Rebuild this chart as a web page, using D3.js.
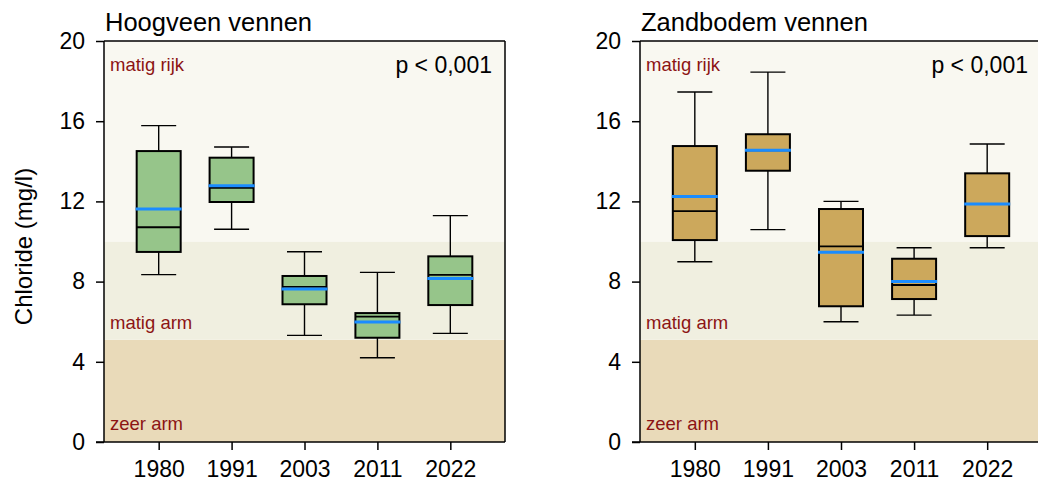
<!DOCTYPE html>
<html>
<head>
<meta charset="utf-8">
<script src="https://cdn.jsdelivr.net/npm/d3@7"></script>
<style>
  html, body { margin: 0; padding: 0; background: #ffffff; }
  svg { display: block; }
  text { font-family: "Liberation Sans", Arial, sans-serif; }
</style>
</head>
<body>
<svg id="chart" width="1038" height="485"></svg>
<script>
// ---- data ----
const years = ["1980", "1991", "2003", "2011", "2022"];
const yTicks = [0, 4, 8, 12, 16, 20];

// Hoogveen vennen
const hvLow    = [8.35, 10.61, 5.32, 4.20, 5.42];
const hvQ1     = [9.48, 11.97, 6.87, 5.20, 6.83];
const hvMedian = [10.71, 12.68, 7.74, 6.25, 8.34];
const hvQ3     = [14.51, 14.18, 8.28, 6.43, 9.26];
const hvHigh   = [15.78, 14.71, 9.49, 8.46, 11.29];
const hvMean   = [11.62, 12.78, 7.63, 5.99, 8.16];

// Zandbodem vennen
const zbLow    = [8.99, 10.59, 6.00, 6.33, 9.69];
const zbQ1     = [10.07, 13.53, 6.77, 7.13, 10.27];
const zbMedian = [11.51, 14.55, 9.76, 7.83, 11.87];
const zbQ3     = [14.76, 15.35, 11.62, 9.14, 13.40];
const zbHigh   = [17.46, 18.45, 12.00, 9.69, 14.86];
const zbMean   = [12.25, 14.55, 9.46, 8.00, 11.87];

// background classes (mg/l)
const bandLower = [0, 5.1, 10];
const bandUpper = [5.1, 10, 20];
const bandNames = ["zeer arm", "matig arm", "matig rijk"];

const yLabel = "Chloride (mg/l)";
const pText = "p < 0,001";

// ---- layout ----
const svg = d3.select("#chart");
const plotTop = 41, plotBottom = 442;
const y = d3.scaleLinear().domain([0, 20]).range([plotBottom, plotTop]);
const bandColors = ["#e9dab9", "#f0efe0", "#f9f8f1"];
const labelRed = "#8c1414";

function rows(lo, q1, med, q3, hi, mean) {
  return years.map((yr, i) => ({ yr, lo: lo[i], q1: q1[i], med: med[i], q3: q3[i], hi: hi[i], mean: mean[i] }));
}

function panel(left, right, title, data, fill) {
  const g = svg.append("g");
  const x = d3.scalePoint().domain(years).range([left, right]).padding(0.75);

  // background bands
  g.selectAll("rect.band").data(bandNames).join("rect")
    .attr("x", left).attr("width", right - left)
    .attr("y", (d, i) => y(bandUpper[i]))
    .attr("height", (d, i) => y(bandLower[i]) - y(bandUpper[i]))
    .attr("fill", (d, i) => bandColors[i]);

  // band labels
  const lbl = g.append("g").attr("fill", labelRed).attr("font-size", 18.5);
  lbl.append("text").attr("x", left + 6).attr("y", y(bandUpper[2]) + 30).text(bandNames[2]);
  lbl.append("text").attr("x", left + 6).attr("y", y(bandLower[1]) - 11).text(bandNames[1]);
  lbl.append("text").attr("x", left + 6).attr("y", y(bandLower[0]) - 12).text(bandNames[0]);

  // p-value
  g.append("text").attr("x", left + 388).attr("y", plotTop + 32)
    .attr("text-anchor", "end").attr("font-size", 23).attr("fill", "#000").text(pText);

  // title
  g.append("text").attr("x", left + 1).attr("y", 31)
    .attr("font-size", 25.5).attr("fill", "#000").text(title);

  // boxes
  const boxW = 44, capW = 35;
  const bx = g.selectAll("g.box").data(data).join("g").attr("class", "box")
    .attr("transform", d => `translate(${x(d.yr)},0)`);
  bx.append("line").attr("x1", 0).attr("x2", 0).attr("y1", d => y(d.hi)).attr("y2", d => y(d.q3))
    .attr("stroke", "#000").attr("stroke-width", 1.4);
  bx.append("line").attr("x1", 0).attr("x2", 0).attr("y1", d => y(d.q1)).attr("y2", d => y(d.lo))
    .attr("stroke", "#000").attr("stroke-width", 1.4);
  bx.append("line").attr("x1", -capW / 2).attr("x2", capW / 2).attr("y1", d => y(d.hi)).attr("y2", d => y(d.hi))
    .attr("stroke", "#000").attr("stroke-width", 1.4);
  bx.append("line").attr("x1", -capW / 2).attr("x2", capW / 2).attr("y1", d => y(d.lo)).attr("y2", d => y(d.lo))
    .attr("stroke", "#000").attr("stroke-width", 1.4);
  bx.append("rect").attr("x", -boxW / 2).attr("width", boxW)
    .attr("y", d => y(d.q3)).attr("height", d => y(d.q1) - y(d.q3))
    .attr("fill", fill).attr("stroke", "#000").attr("stroke-width", 2);
  bx.append("line").attr("x1", -boxW / 2).attr("x2", boxW / 2).attr("y1", d => y(d.med)).attr("y2", d => y(d.med))
    .attr("stroke", "#000").attr("stroke-width", 1.8);
  bx.append("line").attr("x1", -boxW / 2 - 1).attr("x2", boxW / 2 + 1).attr("y1", d => y(d.mean)).attr("y2", d => y(d.mean))
    .attr("stroke", "#1a8cff").attr("stroke-width", 3);

  // frame (top & right)
  g.append("line").attr("x1", left).attr("x2", right).attr("y1", plotTop).attr("y2", plotTop)
    .attr("stroke", "#000").attr("stroke-width", 1.5);
  g.append("line").attr("x1", right).attr("x2", right).attr("y1", plotTop).attr("y2", plotBottom)
    .attr("stroke", "#000").attr("stroke-width", 1.5);

  // axes
  const ya = g.append("g").attr("transform", `translate(${left},0)`)
    .call(d3.axisLeft(y).tickValues(yTicks).tickSize(8).tickPadding(11).tickSizeOuter(0));
  const xa = g.append("g").attr("transform", `translate(0,${plotBottom})`)
    .call(d3.axisBottom(x).tickSize(8).tickPadding(11).tickSizeOuter(0));
  [ya, xa].forEach(a => {
    a.select(".domain").attr("stroke", "#000").attr("stroke-width", 1.5);
    a.selectAll(".tick line").attr("stroke", "#000").attr("stroke-width", 1.5);
    a.selectAll(".tick text").attr("fill", "#000").attr("font-size", 23)
      .attr("font-family", "'Liberation Sans', Arial, sans-serif");
  });
  ya.select(".domain").attr("d", `M0,${plotBottom}V${plotTop}`);
  xa.select(".domain").attr("d", `M${left - 8},0H${right}`);
}

panel(104, 505, "Hoogveen vennen",
  rows(hvLow, hvQ1, hvMedian, hvQ3, hvHigh, hvMean), "#96c58a");
panel(640, 1042, "Zandbodem vennen",
  rows(zbLow, zbQ1, zbMedian, zbQ3, zbHigh, zbMean), "#cca85c");

// y-axis title
svg.append("text")
  .attr("transform", `translate(32,${(plotTop + plotBottom) / 2 + 5}) rotate(-90)`)
  .attr("text-anchor", "middle").attr("font-size", 24).attr("fill", "#000")
  .text(yLabel);
</script>
</body>
</html>
